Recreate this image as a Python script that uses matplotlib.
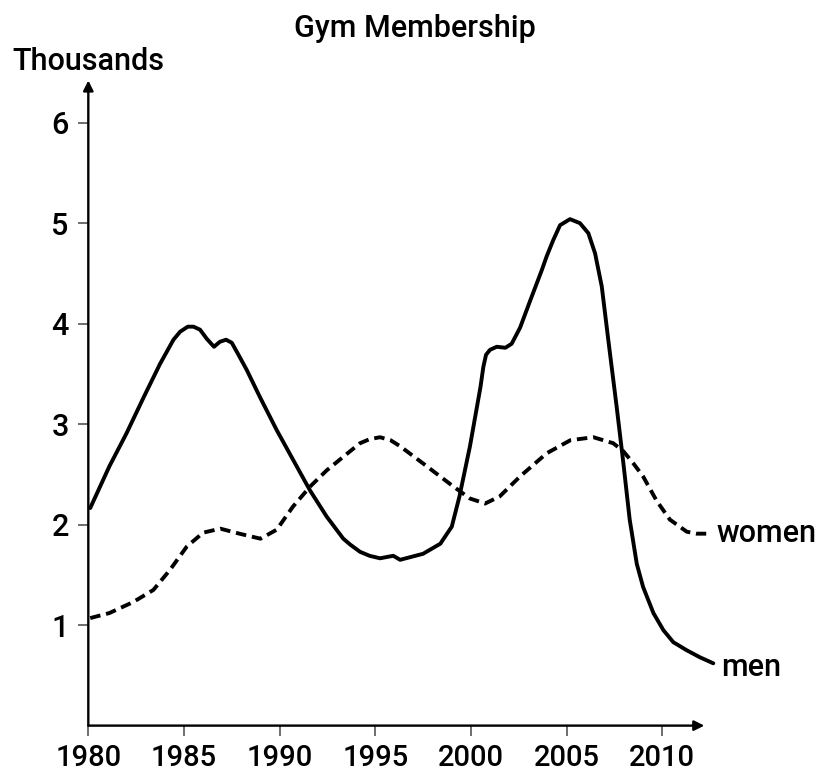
import matplotlib
matplotlib.use("Agg")
import matplotlib.pyplot as plt

plt.rcParams['font.family'] = ['Roboto', 'DejaVu Sans']

# values (year, thousands)
men_years = [1980.1, 1981.1, 1982.0, 1982.9, 1983.75, 1984.45, 1984.8, 1985.2, 1985.5,
             1985.84, 1986.19, 1986.57, 1986.88, 1987.2, 1987.5, 1987.85, 1988.28,
             1988.97, 1989.85, 1990.72, 1991.59, 1992.46, 1993.33, 1993.7, 1994.2,
             1994.7, 1995.25, 1995.94, 1996.3, 1997.5, 1998.4, 1999.0, 1999.4,
             1999.95, 2000.5, 2000.65, 2000.79, 2001.0, 2001.35, 2001.8, 2002.13,
             2002.57, 2003.1, 2003.7, 2003.96, 2004.3, 2004.66, 2005.18, 2005.7,
             2006.14, 2006.49, 2006.84, 2007.18, 2007.62, 2007.97, 2008.3, 2008.67,
             2009.0, 2009.54, 2010.06, 2010.58, 2011.28, 2011.97, 2012.67]
men_values = [2.165, 2.58, 2.91, 3.27, 3.60, 3.84, 3.92, 3.97, 3.97,
              3.94, 3.85, 3.77, 3.82, 3.84, 3.81, 3.69, 3.54,
              3.27, 2.94, 2.64, 2.34, 2.08, 1.86, 1.80, 1.73,
              1.69, 1.665, 1.69, 1.65, 1.71, 1.81, 1.98, 2.28,
              2.78, 3.37, 3.57, 3.69, 3.74, 3.77, 3.76, 3.80,
              3.96, 4.23, 4.53, 4.67, 4.83, 4.98, 5.04, 5.00,
              4.90, 4.70, 4.37, 3.84, 3.17, 2.61, 2.05, 1.61,
              1.38, 1.12, 0.95, 0.83, 0.75, 0.68, 0.62]

women_years = [1980.1, 1981.1, 1982.35, 1983.4, 1984.27, 1985.14, 1986.0, 1986.9, 1987.9,
               1989.0, 1989.85, 1990.7, 1991.6, 1992.46, 1994.2, 1994.7, 1995.25, 1995.8,
               1996.3, 1997.7, 1999.08, 1999.95, 2000.74, 2001.5, 2002.57, 2003.96,
               2005.2, 2006.4, 2007.44, 2007.97, 2008.49, 2009.0, 2009.7, 2010.4,
               2011.28, 2011.8, 2012.3]
women_values = [1.07, 1.12, 1.23, 1.35, 1.55, 1.78, 1.92, 1.96, 1.91,
                1.86, 1.95, 2.18, 2.38, 2.54, 2.81, 2.85, 2.87, 2.84,
                2.78, 2.58, 2.38, 2.26, 2.21, 2.28, 2.48, 2.71,
                2.84, 2.87, 2.81, 2.73, 2.61, 2.48, 2.24, 2.05,
                1.93, 1.91, 1.91]

x_ticks = [1980, 1985, 1990, 1995, 2000, 2005, 2010]
y_ticks = [1, 2, 3, 4, 5, 6]

fig = plt.figure(figsize=(8.2, 7.73), dpi=100)
ax = fig.add_axes([0.1077, 0.0613, 0.7932, 0.858])
ax.set_xlim(1980, 2014)
ax.set_ylim(0, 6.6)

ax.plot(men_years, men_values, color='black', lw=2.8, solid_joinstyle='round',
        solid_capstyle='round', clip_on=False)
ax.plot(women_years, women_values, color='black', lw=2.8, dashes=(2.7, 1.5),
        dash_joinstyle='round', clip_on=False)

ax.text(2012.85, 1.91, "women", fontsize=22, fontweight='medium', ha='left', va='center')
ax.text(2013.1, 0.58, "men", fontsize=22, fontweight='medium', ha='left', va='center')

# axes drawn as arrows
for s in ax.spines.values():
    s.set_visible(False)
arrow = dict(arrowstyle='-|>', lw=1.7, color='black', mutation_scale=15, shrinkA=0, shrinkB=0)
ax.annotate("", xy=(2012.2, 0), xytext=(1980, 0), arrowprops=arrow, annotation_clip=False)
ax.annotate("", xy=(1980, 6.42), xytext=(1980, 0), arrowprops=arrow, annotation_clip=False)

ax.set_xticks(x_ticks)
ax.set_yticks(y_ticks)
ax.tick_params(axis='both', direction='out', length=7, width=1.2, color='#555555')
ax.tick_params(axis='x', pad=6, labelsize=21)
ax.tick_params(axis='y', pad=7, labelsize=22)
for lab in ax.get_xticklabels() + ax.get_yticklabels():
    lab.set_fontweight('medium')

fig.text(0.5057, 0.9517, "Gym Membership", fontsize=22, fontweight='medium',
         ha='center', va='baseline')
fig.text(0.1073, 0.9094, "Thousands", fontsize=22, fontweight='medium',
         ha='center', va='baseline')

fig.savefig("out.png", dpi=100, facecolor='white')
